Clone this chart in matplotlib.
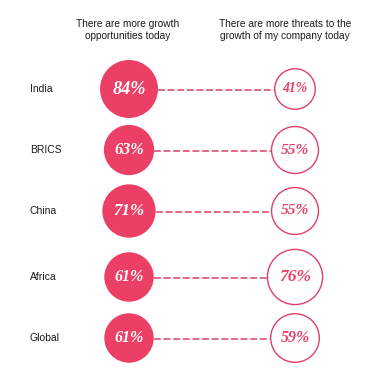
import numpy as np
import matplotlib.pyplot as plt
from matplotlib.patches import Circle

# data
regions = ["India", "BRICS", "China", "Africa", "Global"]
growth = [84, 63, 71, 61, 61]
threats = [41, 55, 55, 76, 59]
header_left = "There are more growth\nopportunities today"
header_right = "There are more threats to the\ngrowth of my company today"

# layout (pixel space)
W, H = 381, 375
row_y = [89, 150, 211, 277, 338]
x_label, x_left, x_right = 30, 129, 295
pink = "#ec3f66"
pink_line = "#dd4068"

fig = plt.figure(figsize=(W / 100, H / 100), dpi=100)
ax = fig.add_axes([0, 0, 1, 1])
ax.set_xlim(0, W)
ax.set_ylim(H, 0)
ax.set_aspect("equal")
ax.axis("off")


def radius(v):
    return 29 * np.sqrt(v / 84)


def fsize(r):
    return 0.37 * r + 2.4


pct_font = dict(family="Liberation Serif", weight="bold", style="italic")
lab_font = dict(family="Liberation Sans", color="#1a1a1a")

ax.text(x_left - 1, 30, header_left, ha="center", va="center", fontsize=7.3,
        linespacing=1.2, **lab_font)
ax.text(x_right - 10, 30, header_right, ha="center", va="center", fontsize=7.3,
        linespacing=1.2, **lab_font)

for name, g, t, y in zip(regions, growth, threats, row_y):
    rg, rt = radius(g), radius(t)
    ax.text(x_label, y, name, ha="left", va="center", fontsize=7.5, **lab_font)
    ax.plot([x_left + rg, x_right - rt], [y + 1, y + 1], color=pink_line,
            lw=1.1, dashes=(4.5, 1.8))
    ax.add_patch(Circle((x_left, y), rg, facecolor=pink, edgecolor="none"))
    ax.add_patch(Circle((x_right, y), rt, facecolor="white",
                        edgecolor=pink_line, lw=1.0))
    ax.text(x_left, y, f"{g}%", ha="center", va="center", color="white",
            fontsize=fsize(rg), **pct_font)
    ax.text(x_right, y, f"{t}%", ha="center", va="center", color=pink,
            fontsize=fsize(rt), **pct_font)

fig.savefig("out.png", dpi=100, facecolor="white")
